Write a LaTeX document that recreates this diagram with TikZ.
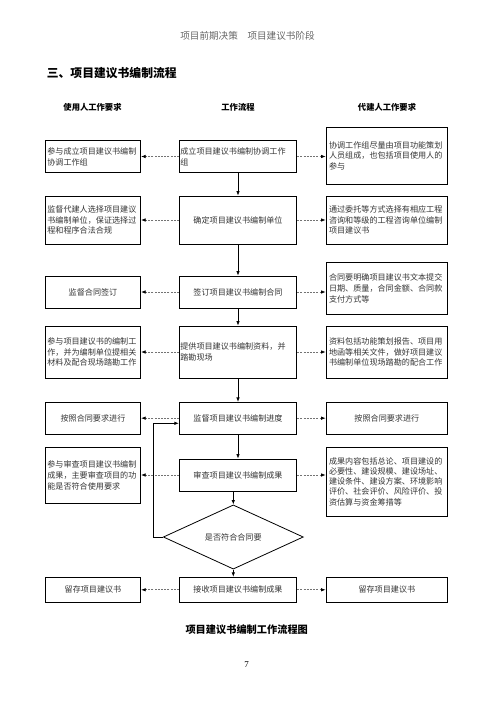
\documentclass[tikz,border=0pt]{standalone}
\usepackage{fontspec}
\setmainfont{Noto Sans CJK SC}
\newfontfamily\serifnum{Liberation Serif}
\usetikzlibrary{arrows.meta,shapes.geometric}
\tikzset{
  bx/.style={draw, line width=0.8pt, inner ysep=0pt, font=\fontsize{8.1}{10.8}\selectfont, text=black!80},
  lb/.style={bx, text width=91.4pt, inner xsep=2pt, minimum height=#1},
  mb/.style={bx, text width=115.4pt, inner xsep=1pt, minimum height=#1},
  rb/.style={bx, text width=115.7pt, inner xsep=3pt, minimum height=#1},
  flow/.style={-{Latex[length=4.5pt,width=3.5pt]}, line width=0.8pt},
  side/.style={-{Latex[length=4.5pt,width=3.5pt,color=black]}, draw=black!55, dash pattern=on 2pt off 1.2pt, line width=0.7pt},
  lbl/.style={inner sep=0pt},
}
\begin{document}
\begin{tikzpicture}[x=1pt,y=-1pt]
\useasboundingbox (0,0) rectangle (496,702);
% header texts
\node[lbl, text=black!60, font=\fontsize{9.6}{10}\selectfont] (hdr) at (247.5,36) {项目前期决策　项目建议书阶段};
\node[lbl, anchor=west, font=\bfseries\fontsize{11.8}{12}\selectfont] (title) at (46.7,73.3) {三、项目建议书编制流程};
\node[lbl, font=\bfseries\fontsize{8.3}{9}\selectfont] (c1) at (92.5,107.3) {使用人工作要求};
\node[lbl, font=\bfseries\fontsize{8.3}{9}\selectfont] (c2) at (238,107.3) {工作流程};
\node[lbl, font=\bfseries\fontsize{8.3}{9}\selectfont] (c3) at (387,107.3) {代建人工作要求};
% row 1
\node[lb=31.6pt, align=left] (l1) at (93,156.5) {参与成立项目建议书编制\\协调工作组};
\node[mb=31.6pt, align=left] (m1) at (238,156.5) {成立项目建议书编制协调工作\\组};
\node[rb=57pt, align=left] (r1) at (386.85,155.8) {协调工作组尽量由项目功能策划\\人员组成，也包括项目使用人的\\参与};
% row 2
\node[lb=48pt, align=left] (l2) at (93,220) {监督代建人选择项目建议\\书编制单位，保证选择过\\程和程序合法合规};
\node[mb=48pt, align=center] (m2) at (238,220) {确定项目建议书编制单位};
\node[rb=48pt, align=left] (r2) at (386.85,220) {通过委托等方式选择有相应工程\\咨询和等级的工程咨询单位编制\\项目建议书};
% row 3
\node[lb=32pt, align=center] (l3) at (93,292) {监督合同签订};
\node[mb=32pt, align=center] (m3) at (238,292) {签订项目建议书编制合同};
\node[rb=51.6pt, align=left] (r3) at (386.85,288.5) {合同要明确项目建议书文本提交\\日期、质量，合同金额、合同款\\支付方式等};
% row 4
\node[lb=52pt, align=left] (l4) at (93,352) {参与项目建议书的编制工\\作，并为编制单位提相关\\材料及配合现场踏勘工作};
\node[mb=52pt, align=left] (m4) at (238,352) {提供项目建议书编制资料，并\\踏勘现场};
\node[rb=52pt, align=left] (r4) at (386.85,352) {资料包括功能策划报告、项目用\\地函等相关文件，做好项目建议\\书编制单位现场踏勘的配合工作};
% row 5
\node[lb=31.7pt, align=center] (l5) at (93,418.15) {按照合同要求进行};
\node[mb=31.7pt, align=center] (m5) at (238,418.15) {监督项目建议书编制进度};
\node[rb=31.7pt, align=center] (r5) at (386.85,418.15) {按照合同要求进行};
% row 6
\node[lb=56pt, align=left] (l6) at (93,475.7) {参与审查项目建议书编制\\成果，主要审查项目的功\\能是否符合使用要求};
\node[mb=32pt, align=center] (m6) at (238,475) {审查项目建议书编制成果};
\node[rb=69pt, align=left, font=\fontsize{8.1}{10.3}\selectfont] (r6) at (386.85,481.5) {成果内容包括总论、项目建设的\\必要性、建设规模、建设场址、\\建设条件、建设方案、环境影响\\评价、社会评价、风险评价、投\\资估算与资金筹措等};
% decision
\node[diamond, draw, line width=0.8pt, inner sep=0pt, minimum width=140pt, minimum height=58pt, font=\fontsize{8.1}{10}\selectfont, text=black!80] (d) at (233.3,537) {是否符合合同要};
% row 7
\node[lb=25pt, align=center] (l7) at (93,589.8) {留存项目建议书};
\node[mb=25pt, align=center] (m7) at (238,589.8) {接收项目建议书编制成果};
\node[rb=25pt, align=center] (r7) at (386.85,589.8) {留存项目建议书};
% caption and page number
\node[lbl, font=\bfseries\fontsize{10.2}{11}\selectfont] (cap) at (246.7,629.3) {项目建议书编制工作流程图};
\node[lbl, font=\serifnum\fontsize{9}{10}\selectfont] (pg) at (246.7,665) {7};
% main flow
\draw[flow] (m1.south) -- (m2.north);
\draw[flow] (m2.south) -- (m3.north);
\draw[flow] (m3.south) -- (m4.north);
\draw[flow] (m4.south) -- (m5.north);
\draw[flow] (m5.south) -- (m6.north);
\draw[flow] (d.north |- m6.south) -- (d.north);
\draw[flow] (d.south) -- (d.south |- m7.north);
\coordinate (fb) at (153.3,423.3);
\draw[flow] (d.west) -| (fb) -- (fb -| m5.west);
% side arrows
\foreach \i in {1,...,7}{
  \draw[side] (m\i.west) -- (m\i.west -| l\i.east);
  \draw[side] (m\i.east) -- (m\i.east -| r\i.west);
}
\end{tikzpicture}
\end{document}
